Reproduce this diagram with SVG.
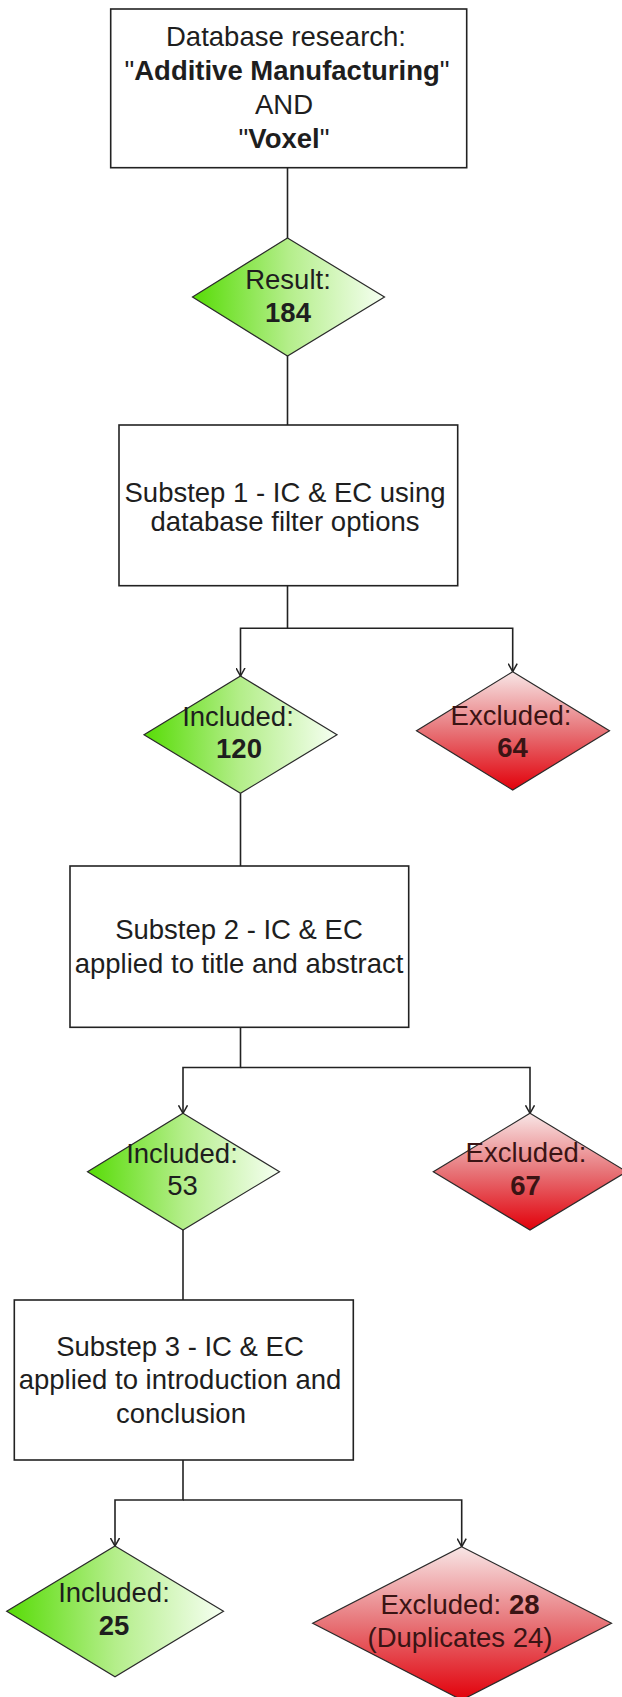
<svg xmlns="http://www.w3.org/2000/svg" width="622" height="1697" viewBox="0 0 622 1697">
<defs>
<style>
.box{fill:#fff;stroke:#222;stroke-width:1.6}
.dia{stroke:#2a2a2a;stroke-width:1.2}
.g{fill:url(#green)}
.r{fill:url(#red)}
.t{font-family:"Liberation Sans",Arial,sans-serif;font-size:27.5px;fill:#1e1e1e;text-anchor:middle}
.tr{fill:#3a1414}
.b{font-weight:bold}
.con{fill:none;stroke:#222;stroke-width:1.6}
</style>
<linearGradient id="green" x1="0" y1="0" x2="1" y2="0">
<stop offset="0" stop-color="#57dc06"/>
<stop offset="0.5" stop-color="#b4ee8a"/>
<stop offset="1" stop-color="#f6fff2"/>
</linearGradient>
<linearGradient id="red" x1="0" y1="0" x2="0" y2="1">
<stop offset="0" stop-color="#f8e6e6"/>
<stop offset="0.5" stop-color="#e77478"/>
<stop offset="1" stop-color="#e2000a"/>
</linearGradient>
<marker id="arr" viewBox="0 0 9 10" markerWidth="9" markerHeight="10" refX="8.5" refY="5" orient="auto" markerUnits="userSpaceOnUse">
<path d="M0.5,0.5 L8.5,5 L0.5,9.5" fill="none" stroke="#222" stroke-width="1.5"/>
</marker>
</defs>
<rect width="622" height="1697" fill="#fff"/>

<g id="connectors">
<path class="con" d="M287.5,167.7 V238"/>
<path class="con" d="M287.5,356 V425"/>
<path class="con" d="M287.5,585.7 V628.3 H240.5 V676" marker-end="url(#arr)"/>
<path class="con" d="M287.5,628.3 H512.7 V671.7" marker-end="url(#arr)"/>
<path class="con" d="M240.5,793.3 V866"/>
<path class="con" d="M240.5,1027.3 V1067.5 H183 V1113.3" marker-end="url(#arr)"/>
<path class="con" d="M240.5,1067.5 H530 V1113.3" marker-end="url(#arr)"/>
<path class="con" d="M183,1230 V1300"/>
<path class="con" d="M183,1460 V1500 H115 V1546" marker-end="url(#arr)"/>
<path class="con" d="M183,1500 H461.7 V1546.7" marker-end="url(#arr)"/>
</g>

<g id="n-database">
<rect class="box" x="110.7" y="9" width="356" height="158.7"/>
<text class="t" x="286" y="46">Database research:</text>
<text class="t" x="287" y="80">"<tspan class="b">Additive Manufacturing</tspan>"</text>
<text class="t" x="284" y="113.5">AND</text>
<text class="t" x="284" y="147.5">"<tspan class="b">Voxel</tspan>"</text>
</g>

<g id="n-result">
<polygon class="dia g" points="287.5,238 384.5,297 287.5,356 192.5,297"/>
<text class="t" x="288" y="289">Result:</text>
<text class="t b" x="288" y="321.5">184</text>
</g>

<g id="n-substep1">
<rect class="box" x="119" y="425" width="338.7" height="160.7"/>
<text class="t" x="285" y="501.5">Substep 1 - IC &amp; EC using</text>
<text class="t" x="285" y="531">database filter options</text>
</g>

<g id="n-included120">
<polygon class="dia g" points="240.5,676 337,734.7 240.5,793.3 144,734.7"/>
<text class="t" x="238" y="726">Included:</text>
<text class="t b" x="239" y="757.5">120</text>
</g>

<g id="n-excluded64">
<polygon class="dia r" points="512.7,671.7 609.5,730.8 512.7,790 416.5,730.8"/>
<text class="t tr" x="511" y="725">Excluded:</text>
<text class="t tr b" x="512.5" y="756.5">64</text>
</g>

<g id="n-substep2">
<rect class="box" x="70" y="866" width="338.7" height="161.3"/>
<text class="t" x="239" y="939.3">Substep 2 - IC &amp; EC</text>
<text class="t" x="239" y="973.3">applied to title and abstract</text>
</g>

<g id="n-included53">
<polygon class="dia g" points="183,1113.3 279.5,1171.7 183,1230 87.5,1171.7"/>
<text class="t" x="182" y="1163.3">Included:</text>
<text class="t" x="182.5" y="1195">53</text>
</g>

<g id="n-excluded67">
<polygon class="dia r" points="530,1113.3 626.7,1171.7 530,1230 433.3,1171.7"/>
<text class="t tr" x="526" y="1162.3">Excluded:</text>
<text class="t tr b" x="525.5" y="1195">67</text>
</g>

<g id="n-substep3">
<rect class="box" x="14.3" y="1300" width="339" height="160"/>
<text class="t" x="180" y="1356">Substep 3 - IC &amp; EC</text>
<text class="t" x="180" y="1389.3">applied to introduction and</text>
<text class="t" x="181" y="1422.7">conclusion</text>
</g>

<g id="n-included25">
<polygon class="dia g" points="115,1546 223.5,1611.3 115,1676.7 6.7,1611.3"/>
<text class="t" x="114" y="1602.3">Included:</text>
<text class="t b" x="114" y="1635">25</text>
</g>

<g id="n-excluded28">
<polygon class="dia r" points="461.7,1546.7 611.5,1623.3 461.7,1700 312.7,1623.3"/>
<text class="t tr" x="460" y="1614">Excluded: <tspan class="b">28</tspan></text>
<text class="t tr" x="460" y="1646.7">(Duplicates 24)</text>
</g>
</svg>
